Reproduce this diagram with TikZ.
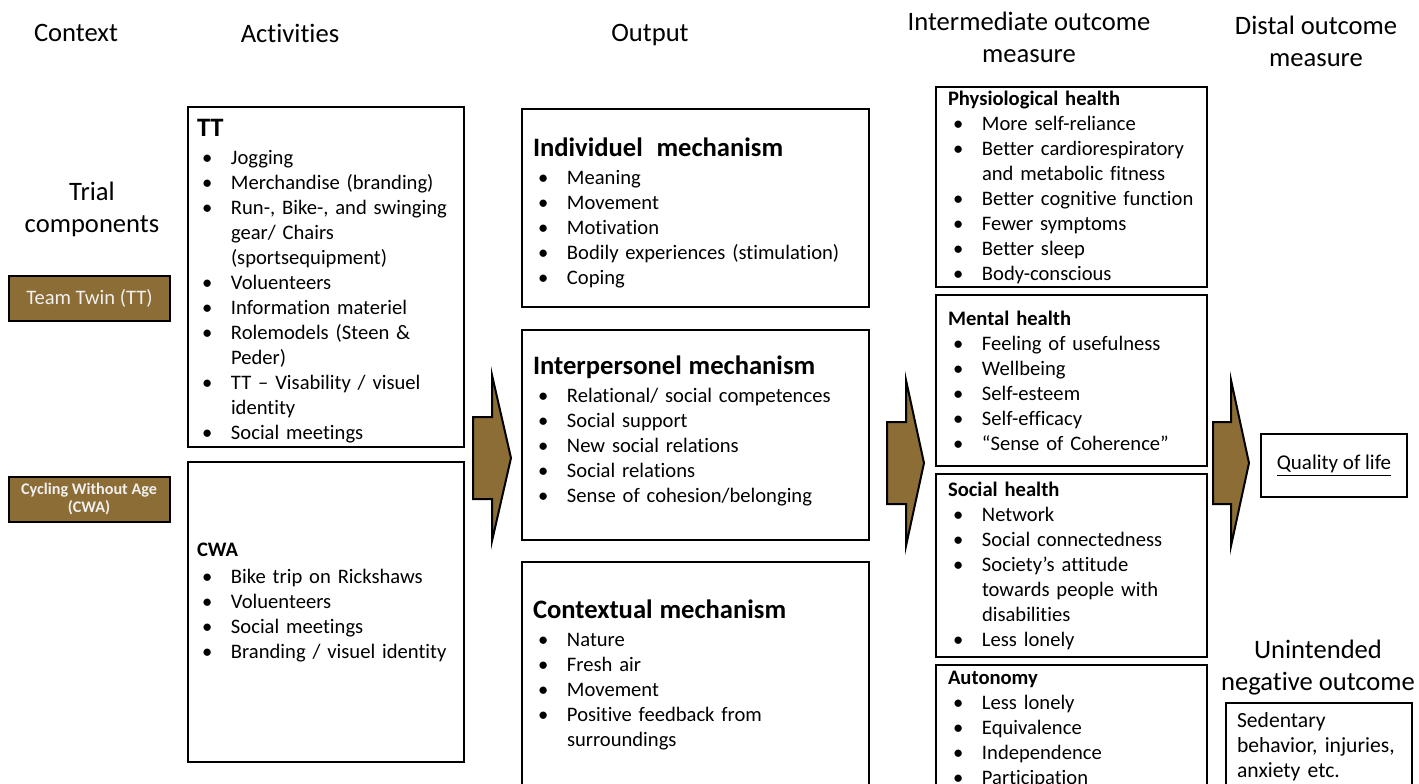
\documentclass[tikz,border=0pt]{standalone}
\usepackage{fontspec}
\setmainfont{Carlito}[Ligatures=CommonOff]
\definecolor{twinbrown}{RGB}{139,109,53}
\hyphenpenalty=10000
\exhyphenpenalty=10000

\newcommand{\itm}[1]{\hangindent=17pt\hangafter=1\noindent\makebox[17pt][l]{\hspace{2.5pt}\textbullet}#1\par}
\newcommand{\boxhead}[1]{{\noindent\fontsize{13.3}{15}\selectfont\bfseries #1\par}\vspace{1.5pt}}
\newcommand{\subhead}[1]{{\noindent\bfseries #1\par}}

\begin{document}
\begin{tikzpicture}[x=0.5pt, y=-0.5pt]
	\tikzstyle{block} = [rectangle, draw, line width=1pt, align=left, font=\fontsize{10.3}{12.5}\selectfont, inner sep=0pt]
	\tikzstyle{trial} = [rectangle, draw, line width=1pt, fill=twinbrown, text=white!94!black, align=center, inner sep=0pt, minimum width=80.5pt, minimum height=22.5pt]
	\tikzstyle{title} = [align=center, font=\fontsize{13.3}{16}\selectfont]
	\tikzstyle{bigarrow} = [draw, line width=1pt, fill=twinbrown]

	\clip (0,0) rectangle (1419,783);

	    % Column titles
	    \node [title] (context) at (76,33) {Context};
	    \node [title] (activities) at (290,33) {Activities};
	    \node [title] (output) at (650,35) {Output};
	    \node [title] (intermediate) at (1029,37) {Intermediate outcome\\measure};
	    \node [title] (distal) at (1316,41) {Distal outcome\\measure};
	    \node [title] (trial) at (92,209) {Trial\\components};
	    \node [title] (unintended) at (1318,668) {Unintended\\negative outcome};

	    % Trial components
	    \node [trial, font=\fontsize{10.3}{12}\selectfont] (twin) at (89.5,298.5) {Team Twin (TT)};
	    \node [trial, font=\fontsize{8.1}{9}\selectfont\bfseries] (cwa) at (89,499.5) {Cycling Without Age\\(CWA)};

	    % Activities
	    \node [block, minimum width=138pt, minimum height=170pt, text width=129pt] (ttbox) at (326,277) {%
	        \boxhead{TT}
	        \itm{Jogging}
	        \itm{Merchandise (branding)}
	        \itm{Run-, Bike-, and swinging\newline gear/ Chairs\newline (sportsequipment)}
	        \itm{Voluenteers}
	        \itm{Information materiel}
	        \itm{Rolemodels (Steen \&\newline Peder)}
	        \itm{TT -- Visability / visuel\newline identity}
	        \itm{Social meetings}\kern-4pt};
	    \node [block, minimum width=138pt, minimum height=150pt, text width=129pt] (cwabox) at (326,612) {%
	        \subhead{CWA}\vspace{1pt}
	        \itm{Bike trip on Rickshaws}
	        \itm{Voluenteers}
	        \itm{Social meetings}
	        \itm{Branding / visuel identity}\kern9pt};

	    % Output
	    \node [block, minimum width=173.5pt, minimum height=99pt, text width=162.5pt] (indiv) at (695.5,208) {%
	        \boxhead{Individuel\ \ mechanism}
	        \itm{Meaning}
	        \itm{Movement}
	        \itm{Motivation}
	        \itm{Bodily experiences (stimulation)}
	        \itm{Coping}\kern-5pt};
	    \node [block, minimum width=173.5pt, minimum height=105pt, text width=162.5pt] (interp) at (695.5,435) {%
	        \boxhead{Interpersonel mechanism}
	        \itm{Relational/ social competences}
	        \itm{Social support}
	        \itm{New social relations}
	        \itm{Social relations}
	        \itm{Sense of cohesion/belonging}\kern4pt};
	    \node [block, minimum width=173.5pt, minimum height=113pt, text width=162.5pt] (contex) at (695.5,675) {%
	        \boxhead{Contextual mechanism}
	        \itm{Nature}
	        \itm{Fresh air}
	        \itm{Movement}
	        \itm{Positive feedback from\newline surroundings}};

	    % Intermediate outcome
	    \node [block, minimum width=135.5pt, minimum height=100pt, text width=123.5pt] (physio) at (1071.5,187) {%
	        \subhead{Physiological health}
	        \itm{More self-reliance}
	        \itm{Better cardiorespiratory\newline and metabolic fitness}
	        \itm{Better cognitive function}
	        \itm{Fewer symptoms}
	        \itm{Better sleep}
	        \itm{Body-conscious}};
	    \node [block, minimum width=135.5pt, minimum height=85.5pt, text width=123.5pt] (mental) at (1071.5,380.5) {%
	        \subhead{Mental health}
	        \itm{Feeling of usefulness}
	        \itm{Wellbeing}
	        \itm{Self-esteem}
	        \itm{Self-efficacy}
	        \itm{“Sense of Coherence”}};
	    \node [block, minimum width=135.5pt, minimum height=91.5pt, text width=123.5pt] (social) at (1071.5,565.5) {%
	        \subhead{Social health}
	        \itm{Network}
	        \itm{Social connectedness}
	        \itm{Society’s attitude\newline towards people with\newline disabilities}
	        \itm{Less lonely}};
	    \node [block, minimum width=135.5pt, minimum height=62.5pt, text width=123.5pt] (autonomy) at (1071.5,727.5) {%
	        \subhead{Autonomy}
	        \itm{Less lonely}
	        \itm{Equivalence}
	        \itm{Independence}
	        \itm{Participation}\kern-2pt};

	    % Distal outcome
	    \node [block, align=center, minimum width=73pt, minimum height=31.5pt, font=\fontsize{10.5}{12.5}\selectfont] (quality) at (1334,465.5) {\underline{Quality of life}};
	    \node [block, minimum width=93pt, minimum height=43.5pt, text width=82pt, font=\fontsize{10.8}{12.5}\selectfont] (negative) at (1319,746.5) {%
	        Sedentary\newline behavior, injuries,\newline anxiety etc.};

	    % Block arrows
	    \foreach \xl/\xh/\xt/\yc in {473/492/511/458, 887/906/924/463, 1213/1231/1249/463}
	        \draw [bigarrow] (\xl,\yc-41) -- (\xh,\yc-41) -- (\xh,\yc-83) -- (\xt,\yc) -- (\xh,\yc+83) -- (\xh,\yc+41) -- (\xl,\yc+41) -- cycle;

	\end{tikzpicture}
\end{document}
